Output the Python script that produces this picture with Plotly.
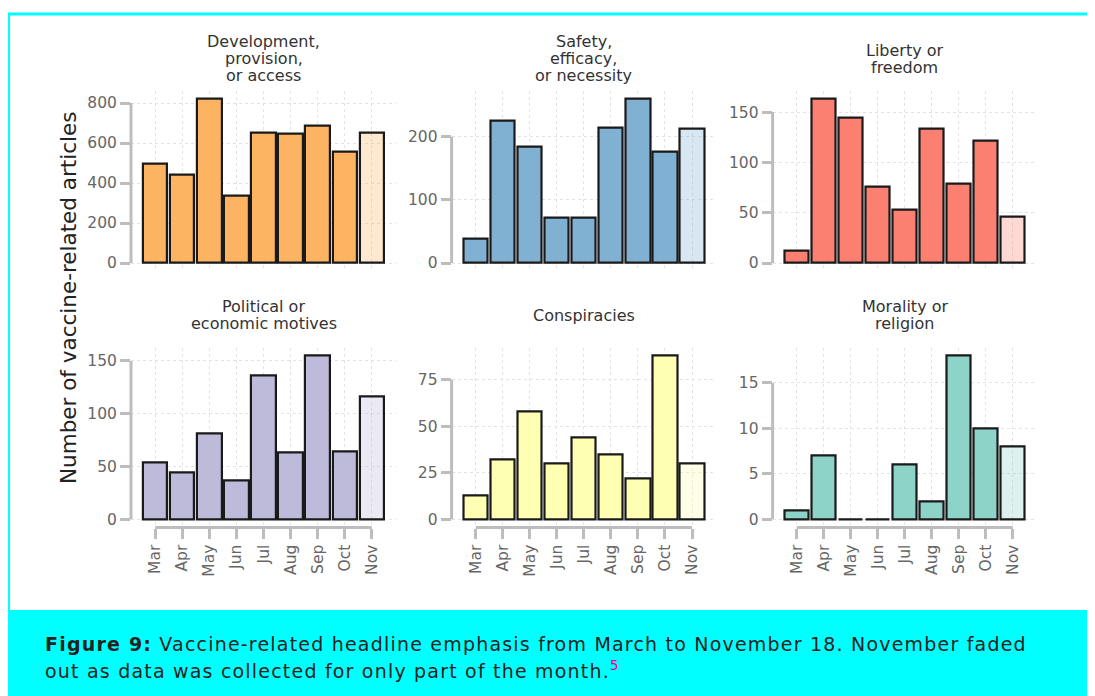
import plotly.graph_objects as go

# the page puts the figure 8 px in from the top-left corner
OFF = 8
W, H = 1095 - OFF, 696 - OFF

months = ["Mar", "Apr", "May", "Jun", "Jul", "Aug", "Sep", "Oct", "Nov"]

titles = [
    ["Development,", "provision,", "or access"],
    ["Safety,", "efficacy,", "or necessity"],
    ["Liberty or", "freedom"],
    ["Political or", "economic motives"],
    ["Conspiracies"],
    ["Morality or", "religion"],
]

development = [498, 440, 820, 337, 652, 647, 684, 555, 652]
safety = [39, 225, 184, 71, 72, 215, 260, 176, 213]
liberty = [12, 163, 144, 76, 53, 133, 79, 121, 46]
political = [54, 44, 81, 37, 136, 63, 155, 64, 116]
conspiracies = [13, 32, 58, 30, 44, 35, 22, 88, 30]
morality = [1, 7, 0, 0, 6, 2, 18, 10, 8]

series = [development, safety, liberty, political, conspiracies, morality]
colors = ["#fdb462", "#80b1d3", "#fb8072", "#bebada", "#ffffb3", "#8dd3c7"]
tick_steps = [200, 100, 50, 50, 25, 5]
tick_tops = [800, 200, 150, 150, 75, 15]

caption_1 = "<b>Figure 9:</b> Vaccine-related headline emphasis from March to November 18. November faded"
caption_2 = "out as data was collected for only part of the month.<sup><span style='color:#e5007d'>5</span></sup>"

# panel boxes in page pixels
col_px = [(131, 396), (451.6, 716.2), (772.6, 1037)]
row_px = [(90.8, 271.2), (347.5, 527.5)]

SPINE = "#bdbdbd"
TICKFONT = dict(family="DejaVu Sans", size=15.5, color="#666666")


def px_x(x):
    return (x - OFF) / W


def px_y(y):
    return 1 - (y - OFF) / H


def faded(hex_color, alpha=0.3):
    h = hex_color.lstrip("#")
    r, g, b = int(h[0:2], 16), int(h[2:4], 16), int(h[4:6], 16)
    return f"rgba({r},{g},{b},{alpha})"


fig = go.Figure()
shapes = []
annotations = []
layout = {}

for i, values in enumerate(series):
    n = i + 1
    row, col = divmod(i, 3)
    xs = "x" if n == 1 else f"x{n}"
    ys = "y" if n == 1 else f"y{n}"
    bar_colors = [colors[i]] * (len(months) - 1) + [faded(colors[i])]

    fig.add_trace(
        go.Bar(
            x=list(range(len(months))),
            y=values,
            width=0.9,
            marker=dict(color=bar_colors, line=dict(color="#1a1a1a", width=2.2)),
            xaxis=xs,
            yaxis=ys,
            showlegend=False,
        )
    )

    top = max(values)
    x0, x1 = col_px[col]
    y0, y1 = row_px[row]
    bottom_row = row == 1

    layout[f"xaxis{'' if n == 1 else n}"] = dict(
        domain=[px_x(x0), px_x(x1)],
        anchor=ys,
        range=[-0.895, 8.895],
        tickvals=list(range(len(months))),
        ticktext=months,
        showticklabels=bottom_row,
        ticks="outside" if bottom_row else "",
        ticklen=10,
        tickwidth=2.5,
        tickcolor=SPINE,
        tickangle=-90,
        tickfont=TICKFONT,
        showgrid=True,
        gridcolor="#e3e3e3",
        griddash="dot",
        gridwidth=1,
        zeroline=False,
        showline=False,
        fixedrange=True,
    )
    layout[f"yaxis{'' if n == 1 else n}"] = dict(
        domain=[px_y(y1), px_y(y0)],
        anchor=xs,
        range=[-0.05 * top, 1.05 * top],
        tickvals=list(range(0, tick_tops[i] + 1, tick_steps[i])),
        ticks="outside",
        ticklen=10,
        tickwidth=2.5,
        tickcolor=SPINE,
        tickfont=TICKFONT,
        showgrid=True,
        gridcolor="#e3e3e3",
        griddash="dot",
        gridwidth=1,
        zeroline=False,
        showline=False,
        fixedrange=True,
    )

    # trimmed left spine
    shapes.append(dict(
        type="line", xref=f"{xs} domain", yref=ys,
        x0=0, x1=0, y0=0, y1=tick_tops[i],
        line=dict(color=SPINE, width=3),
    ))
    if bottom_row:
        shapes.append(dict(
            type="line", xref=xs, yref=f"{ys} domain",
            x0=0, x1=len(months) - 1, y0=0, y1=0,
            line=dict(color=SPINE, width=3),
        ))

    lines = titles[i]
    for k, line in enumerate(lines):
        annotations.append(dict(
            text=line, xref=f"{xs} domain", yref=f"{ys} domain",
            x=0.5, y=1, xanchor="center", yanchor="middle",
            yshift=32 - (k - (len(lines) - 1) / 2) * 17,
            showarrow=False,
            font=dict(family="DejaVu Sans", size=16, color="#333333"),
        ))

annotations.append(dict(
    text="Number of vaccine-related articles",
    xref="paper", yref="paper", x=px_x(68), y=px_y(298),
    xanchor="center", yanchor="middle", textangle=-90, showarrow=False,
    font=dict(family="DejaVu Sans", size=21.5, color="#222222"),
))

# page frame and caption box
shapes += [
    dict(type="line", xref="paper", yref="paper", x0=0, x1=1, y0=px_y(14), y1=px_y(14),
         line=dict(color="#00ffff", width=3), layer="below"),
    dict(type="line", xref="paper", yref="paper", x0=1 / W, x1=1 / W, y0=px_y(610), y1=px_y(13),
         line=dict(color="#00ffff", width=2), layer="below"),
    dict(type="rect", xref="paper", yref="paper", x0=0, x1=1, y0=0, y1=px_y(610),
         fillcolor="#00ffff", line=dict(width=0), layer="below"),
]

for text, yc in [(caption_1, 643.5), (caption_2, 670)]:
    annotations.append(dict(
        text=f"<span style='letter-spacing:1.2px'>{text}</span>",
        xref="paper", yref="paper", x=px_x(43), y=px_y(yc),
        xanchor="left", yanchor="middle", showarrow=False, align="left",
        font=dict(family="DejaVu Sans", size=19, color="#222222"),
    ))

fig.update_layout(
    width=W,
    height=H,
    margin=dict(l=0, r=0, t=0, b=0),
    paper_bgcolor="white",
    plot_bgcolor="white",
    shapes=shapes,
    annotations=annotations,
    bargap=0,
    **layout,
)

fig.write_html("out.html")
